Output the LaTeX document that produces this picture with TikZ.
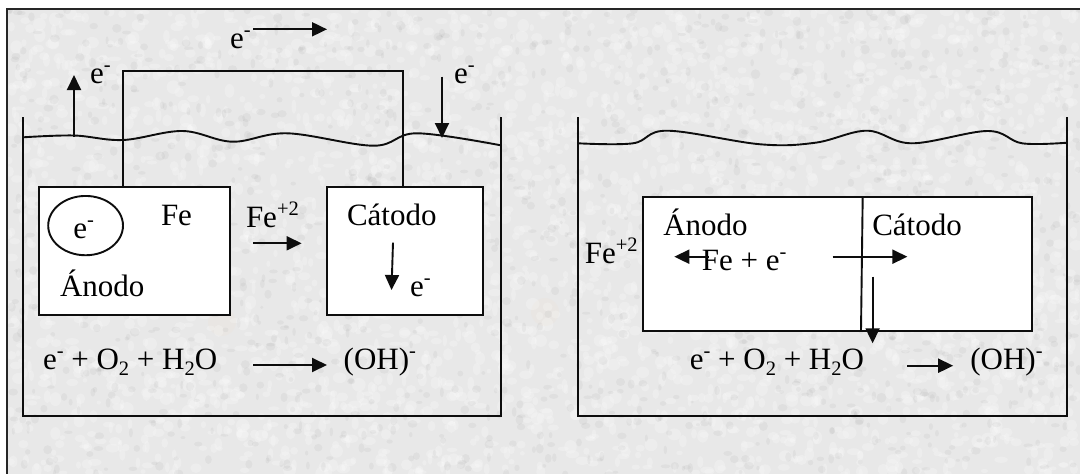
\documentclass[tikz,border=0pt]{standalone}
\usepackage{fontspec}
\setmainfont{Liberation Serif}
\usetikzlibrary{arrows.meta,shapes.geometric}
\newcommand{\supr}[1]{\raisebox{.38em}{\fontsize{20.5}{21}\selectfont #1}}
\newcommand{\subr}[1]{\raisebox{-.2em}{\fontsize{20.5}{21}\selectfont #1}}
\tikzset{
  ink/.style={line width=1.9pt,draw=black!95},
  flow/.style={line width=1.9pt,draw=black!95,-{Triangle[length=15pt,width=14pt]}},
  lbl/.style={anchor=base west,inner sep=0pt,outer sep=0pt,font=\fontsize{31}{33}\selectfont,text=black},
  plate/.style={ink,fill=white,rectangle,inner sep=0pt,outer sep=0pt,anchor=north west},
}
\begin{document}
\begin{tikzpicture}[x=1pt,y=-1pt]
\useasboundingbox (0,0) rectangle (1080,474);
% textured ground
\fill[white] (0,0) rectangle (1080,474);
\begin{scope}
\clip (7,9) rectangle (1080,474);
\fill[black!9] (7,9) rectangle (1080,474);
\pgfmathsetseed{4711}
\foreach \i in {1,...,3200}{
  \pgfmathsetmacro{\px}{7+1073*rnd}
  \pgfmathsetmacro{\py}{9+465*rnd}
  \pgfmathsetmacro{\pr}{2+5*rnd}
  \pgfmathsetmacro{\pq}{2+5*rnd}
  \fill[white,opacity=.22] (\px,\py) ellipse[x radius=\pr,y radius=\pq];
}
\foreach \i in {1,...,1400}{
  \pgfmathsetmacro{\px}{7+1073*rnd}
  \pgfmathsetmacro{\py}{9+465*rnd}
  \pgfmathsetmacro{\pr}{1.5+3.5*rnd}
  \pgfmathsetmacro{\pq}{1.5+3.5*rnd}
  \fill[black,opacity=.035] (\px,\py) ellipse[x radius=\pr,y radius=\pq];
}
\fill[orange!40,opacity=.05] (222,322) circle[radius=14];
\fill[orange!40,opacity=.05] (545,312) circle[radius=14];
\end{scope}
\draw[line width=1.8pt,draw=black!85] (7,474) -- (7,9) -- (1080,9);

% left cell
\draw[ink] (23.4,117.3) -- (23.4,415.7) -- (500.7,415.7) -- (500.7,117.3);
\draw[ink] plot[smooth,tension=.6] coordinates{(23.4,137.3) (74,135.5) (123,140) (182.5,131) (232.5,141.7) (287.5,133.3) (373.6,145.7) (416.7,133.3) (500.7,145.3)};
\node[plate,minimum width=191pt,minimum height=128.3pt] (anode) at (39,186.7) {};
\node[plate,minimum width=156pt,minimum height=128.3pt] (cathode) at (327,186.7) {};
\coordinate (wa) at (123,186.7);
\coordinate (wb) at (123,70.7);
\coordinate (wc) at (403,70.7);
\coordinate (wd) at (403,186.7);
\draw[ink] (wa) -- (wb) -- (wc) -- (wd);
\node[ink,draw,ellipse,inner sep=0pt,minimum width=74.8pt,minimum height=59.3pt] (hole) at (85.6,225.6) {};
\node[lbl] (t1) at (230,48) {e\supr{-}};
\node[lbl] (t2) at (90,83) {e\supr{-}};
\node[lbl] (t3) at (454,83) {e\supr{-}};
\node[lbl] (t4) at (73.3,238) {e\supr{-}};
\node[lbl] (t5) at (161,225) {Fe};
\node[lbl] (t6) at (60,296.7) {Ánodo};
\node[lbl] (t7) at (246,227) {Fe\supr{+2}};
\node[lbl] (t8) at (347,225) {Cátodo};
\node[lbl] (t9) at (410,296) {e\supr{-}};
\node[lbl] (t10) at (43,369.3) {e\supr{-} + O\subr{2} + H\subr{2}O};
\node[lbl] (t11) at (343.7,369.3) {(OH)\supr{-}};
\coordinate (a1s) at (74,136.7); \coordinate (a1e) at (74,75);
\coordinate (a2s) at (253,29.3); \coordinate (a2e) at (327,29.3);
\coordinate (a3s) at (442,76.7); \coordinate (a3e) at (442,138);
\coordinate (a4s) at (253,243.3); \coordinate (a4e) at (301.6,243.3);
\coordinate (a5s) at (393,242.7); \coordinate (a5e) at (391.5,290);
\coordinate (a6s) at (253,365); \coordinate (a6e) at (327,365);
\foreach \n in {1,...,6}{\draw[flow] (a\n s) -- (a\n e);}

% right cell
\draw[ink] (578,117.3) -- (578,415.7) -- (1067,415.7) -- (1067,117.3);
\draw[ink] plot[smooth,tension=.6] coordinates{(578,143.3) (633,143.3) (667.4,130.7) (760.4,144.3) (815.5,142.7) (867.1,130.7) (911.9,143.3) (987.7,131) (1022.1,143.3) (1067,142.7)};
\node[plate,minimum width=389.8pt,minimum height=134pt] (block) at (642.6,196.7) {};
\coordinate (da) at (862.7,196.7);
\coordinate (db) at (861,330.7);
\draw[ink] (da) -- (db);
\node[lbl] (r1) at (584.8,263) {Fe\supr{+2}};
\node[lbl] (r2) at (663.3,235) {Ánodo};
\node[lbl] (r3) at (872.3,235) {Cátodo};
\node[lbl] (r4) at (701.8,270.7) {Fe + e\supr{-}};
\node[lbl] (r5) at (689.8,369.3) {e\supr{-} + O\subr{2} + H\subr{2}O};
\node[lbl] (r6) at (970.4,369.3) {(OH)\supr{-}};
\coordinate (b1s) at (708.7,256.7); \coordinate (b1e) at (674.3,256.7);
\coordinate (b2s) at (832.7,256.7); \coordinate (b2e) at (907.4,256.7);
\coordinate (b3s) at (872.6,276.7); \coordinate (b3e) at (872.6,343.3);
\coordinate (b4s) at (907.4,365.7); \coordinate (b4e) at (953.2,365.7);
\foreach \n in {1,...,4}{\draw[flow] (b\n s) -- (b\n e);}
\end{tikzpicture}
\end{document}
